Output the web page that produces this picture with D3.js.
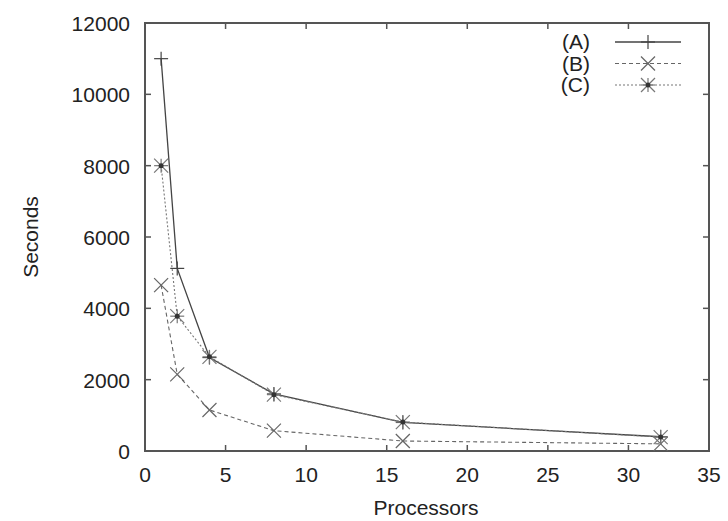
<!DOCTYPE html>
<html>
<head>
<meta charset="utf-8">
<script src="https://cdn.jsdelivr.net/npm/d3@7"></script>
<style>
  body { margin: 0; background: #fff; }
  text { font-family: "Liberation Sans", Arial, sans-serif; fill: #222; }
</style>
</head>
<body>
<div id="chart"></div>
<script>
// data
var processors = [1, 2, 4, 8, 16, 32];
var seriesA = [11000, 5120, 2620, 1600, 800, 400];
var seriesB = [4650, 2150, 1150, 570, 280, 200];
var seriesC = [8000, 3780, 2640, 1580, 810, 390];
var seriesNames = ["(A)", "(B)", "(C)"];
var xTicks = [0, 5, 10, 15, 20, 25, 30, 35];
var yTicks = [0, 2000, 4000, 6000, 8000, 10000, 12000];

var width = 728, height = 521;
var margin = { top: 23, right: 19, bottom: 70, left: 145 };
var fontSize = 21;

var svg = d3.select("#chart").append("svg")
  .attr("width", width)
  .attr("height", height);

var x = d3.scaleLinear().domain([0, 35]).range([margin.left, width - margin.right]);
var y = d3.scaleLinear().domain([0, 12000]).range([height - margin.bottom, margin.top]);

var axisColor = "#555";

// frame
svg.append("rect")
  .attr("x", x(0)).attr("y", y(12000))
  .attr("width", x(35) - x(0)).attr("height", y(0) - y(12000))
  .attr("fill", "none").attr("stroke", axisColor).attr("stroke-width", 2);

// ticks pointing inward, mirrored
xTicks.forEach(function(t) {
  svg.append("line").attr("x1", x(t)).attr("x2", x(t))
    .attr("y1", y(0)).attr("y2", y(0) - 6).attr("stroke", axisColor).attr("stroke-width", 1.5);
  svg.append("line").attr("x1", x(t)).attr("x2", x(t))
    .attr("y1", y(12000)).attr("y2", y(12000) + 6).attr("stroke", axisColor).attr("stroke-width", 1.5);
  svg.append("text").attr("x", x(t)).attr("y", y(0) + 31)
    .attr("text-anchor", "middle").attr("font-size", fontSize).text(t);
});
yTicks.forEach(function(t) {
  svg.append("line").attr("x1", x(0)).attr("x2", x(0) + 6)
    .attr("y1", y(t)).attr("y2", y(t)).attr("stroke", axisColor).attr("stroke-width", 1.5);
  svg.append("line").attr("x1", x(35)).attr("x2", x(35) - 6)
    .attr("y1", y(t)).attr("y2", y(t)).attr("stroke", axisColor).attr("stroke-width", 1.5);
  svg.append("text").attr("x", x(0) - 15).attr("y", y(t) + 8)
    .attr("text-anchor", "end").attr("font-size", fontSize).text(t);
});

// axis titles
svg.append("text").attr("x", x(17.5) - 1).attr("y", 515)
  .attr("text-anchor", "middle").attr("font-size", fontSize).text("Processors");
svg.append("text").attr("transform", "translate(38," + y(6000) + ") rotate(-90)")
  .attr("text-anchor", "middle").attr("font-size", fontSize).text("Seconds");

var series = [
  { name: seriesNames[0], values: seriesA, dash: null, marker: "plus", color: "#444", w: 1.3 },
  { name: seriesNames[1], values: seriesB, dash: "4,3", marker: "cross", color: "#666", w: 1.1 },
  { name: seriesNames[2], values: seriesC, dash: "2,2", marker: "star", color: "#777", w: 1.1 }
];

var line = d3.line()
  .x(function(d) { return x(d[0]); })
  .y(function(d) { return y(d[1]); });

function drawMarker(g, type, cx, cy, color) {
  var s = 7;
  var paths = [];
  if (type === "plus" || type === "star") {
    paths.push([[cx - s, cy], [cx + s, cy]]);
    paths.push([[cx, cy - s], [cx, cy + s]]);
  }
  if (type === "cross" || type === "star") {
    paths.push([[cx - s, cy - s], [cx + s, cy + s]]);
    paths.push([[cx - s, cy + s], [cx + s, cy - s]]);
  }
  paths.forEach(function(p) {
    g.append("path").attr("d", d3.line()(p))
      .attr("stroke", color).attr("stroke-width", 1.2).attr("fill", "none");
  });
  if (type === "star") {
    g.append("circle").attr("cx", cx).attr("cy", cy).attr("r", 2.5).attr("fill", "#333");
  }
}

series.forEach(function(s, i) {
  var pts = processors.map(function(p, j) { return [p, s.values[j]]; });
  var g = svg.append("g");
  g.append("path").datum(pts).attr("d", line)
    .attr("fill", "none").attr("stroke", s.color).attr("stroke-width", s.w)
    .attr("stroke-dasharray", s.dash);
  pts.forEach(function(d) { drawMarker(g, s.marker, x(d[0]), y(d[1]), s.color); });

  // legend
  var ly = 42 + i * 21.5;
  svg.append("text").attr("x", 590).attr("y", ly + 7)
    .attr("text-anchor", "end").attr("font-size", fontSize).text(s.name);
  svg.append("line").attr("x1", 615).attr("x2", 681).attr("y1", ly).attr("y2", ly)
    .attr("stroke", s.color).attr("stroke-width", s.w).attr("stroke-dasharray", s.dash);
  drawMarker(svg, s.marker, 648, ly, s.color);
});
</script>
</body>
</html>
